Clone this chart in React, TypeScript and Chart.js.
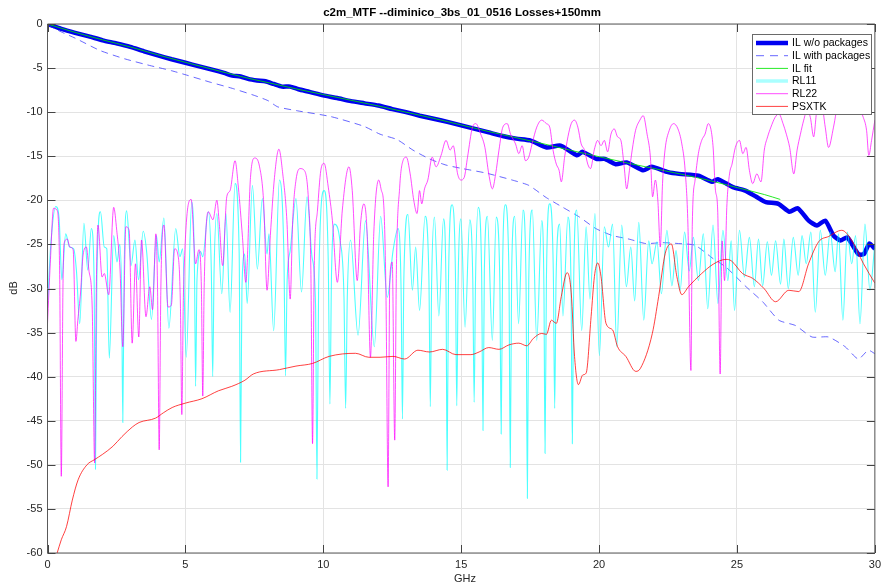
import React, { useEffect, useRef } from 'react';
import { Chart, registerables } from 'chart.js';
Chart.register(...registerables);

type P = [number, number];

const chartTitle = 'c2m_MTF --diminico_3bs_01_0516 Losses+150mm';
const xLabel = 'GHz';
const yLabel = 'dB';
const legendLabels = ['IL w/o packages', 'IL with packages', 'IL fit', 'RL11', 'RL22', 'PSXTK'];
const xTicks = [0, 5, 10, 15, 20, 25, 30];
const yTicks = [0, -5, -10, -15, -20, -25, -30, -35, -40, -45, -50, -55, -60];

const ilNoPkg: P[] = [[0,0],[0.5,-0.55],[1,-1.0],[1.5,-1.4],[2,-1.85],[2.5,-2.2],[3,-2.6],[3.5,-3.1],[4,-3.55],[4.5,-4.0],[5,-4.4],[5.5,-4.8],[6,-5.2],[6.4,-5.55],[6.7,-5.85],[7.0,-5.95],[7.3,-6.25],[7.6,-6.4],[7.9,-6.5],[8.2,-6.8],[8.5,-7.1],[8.8,-7.1],[9.1,-7.4],[9.5,-7.7],[10,-8.1],[10.5,-8.4],[11,-8.75],[11.5,-9.0],[12,-9.25],[12.5,-9.65],[13,-10.0],[13.5,-10.4],[14,-10.75],[14.5,-11.1],[15,-11.5],[15.5,-11.9],[16,-12.3],[16.5,-12.7],[17,-13.0],[17.5,-13.2],[18.1,-14.0],[18.6,-13.8],[19.2,-14.9],[19.4,-14.5],[19.9,-15.3],[20.2,-15.3],[20.6,-15.9],[21.0,-15.7],[21.6,-16.6],[21.9,-16.2],[22.5,-16.8],[22.9,-17.0],[23.6,-17.2],[24.1,-17.9],[24.3,-17.6],[24.85,-18.5],[25.3,-18.9],[25.7,-19.6],[26.05,-20.2],[26.5,-20.4],[26.9,-21.3],[27.2,-20.9],[27.6,-22.3],[27.9,-22.85],[28.2,-22.3],[28.5,-24.0],[28.75,-24.55],[29.0,-24.2],[29.4,-26.1],[29.6,-26.1],[29.8,-24.9],[30,-25.5]];

const ilPkg: P[] = [[0,-0.1],[0.5,-0.9],[1,-1.6],[1.9,-3.0],[2.8,-3.95],[3.7,-4.7],[4.5,-5.3],[5.05,-5.8],[5.9,-6.6],[6.7,-7.3],[7.5,-8.1],[8.0,-8.7],[8.35,-9.4],[9.07,-9.85],[10.27,-10.5],[11.47,-11.6],[12.06,-12.5],[12.67,-13.1],[13.25,-14.3],[13.85,-15.3],[14.45,-16.0],[15.05,-16.4],[15.89,-16.9],[16.85,-17.7],[17.45,-18.3],[18.09,-19.7],[18.69,-20.8],[19.29,-21.9],[19.88,-23.2],[20.49,-24.0],[21.09,-24.4],[21.69,-24.9],[22.28,-24.8],[22.88,-24.9],[23.48,-25.1],[24.13,-26.6],[24.61,-27.6],[25.33,-29.8],[25.93,-31.5],[26.52,-33.6],[27.12,-34.2],[27.72,-35.5],[28.32,-35.5],[28.92,-36.6],[29.4,-38.0],[29.76,-37.0],[30,-37.4]];

const ilFit: P[] = [[0,0],[1,-0.95],[2,-1.8],[3,-2.6],[4,-3.5],[5,-4.35],[6,-5.15],[7,-5.95],[8,-6.65],[9,-7.35],[10,-8.0],[11,-8.65],[12,-9.3],[13,-10.0],[14,-10.7],[15,-11.45],[16,-12.2],[17,-12.9],[18,-13.6],[19,-14.35],[20,-15.05],[21,-15.75],[22,-16.4],[23,-17.05],[24,-17.75],[25,-18.55],[26,-19.35],[26.57,-19.9]];

const rl11: P[] = [[0,-32],[0.12,-25],[0.3,-20.7],[0.42,-22],[0.52,-29],[0.66,-23.8],[0.8,-25.3],[0.95,-25.5],[1.05,-28],[1.17,-34],[1.32,-22.6],[1.46,-27.9],[1.59,-23.2],[1.69,-29],[1.74,-50.5],[1.79,-29],[1.92,-21.3],[2.06,-25.3],[2.15,-25.5],[2.24,-37.9],[2.4,-24],[2.52,-27],[2.62,-25],[2.69,-31],[2.73,-45.2],[2.78,-28],[2.87,-21.2],[3.03,-27.4],[3.17,-24.5],[3.3,-29],[3.47,-23.5],[3.6,-26],[3.77,-33.5],[3.95,-24],[4.05,-27],[4.22,-22],[4.4,-34.5],[4.65,-23.2],[4.8,-26.4],[4.9,-25.5],[5.03,-37.8],[5.23,-20.2],[5.33,-28],[5.37,-41.1],[5.42,-29],[5.55,-25.8],[5.63,-26.4],[5.83,-21.3],[5.94,-28],[5.99,-40],[6.04,-28],[6.14,-21.5],[6.32,-30.6],[6.47,-21.5],[6.62,-32.7],[6.8,-18.1],[6.95,-26],[7.0,-49.7],[7.05,-30],[7.15,-26.1],[7.24,-31.7],[7.43,-18.3],[7.61,-27.8],[7.79,-19.8],[7.96,-26.1],[8.03,-23.8],[8.2,-34.8],[8.41,-17.7],[8.57,-26],[8.63,-39.9],[8.69,-29],[8.8,-25.7],[9.01,-19.8],[9.21,-30.4],[9.41,-19.6],[9.59,-26.4],[9.72,-32],[9.77,-51.6],[9.83,-30],[10.03,-18.9],[10.18,-27],[10.24,-43.1],[10.3,-28],[10.41,-22.7],[10.6,-24.5],[10.75,-31],[10.81,-43.6],[10.87,-31],[10.99,-24.5],[11.26,-35.3],[11.53,-22.3],[11.85,-36.6],[12.08,-21.8],[12.32,-31.0],[12.53,-25.7],[12.71,-23.2],[12.82,-30],[12.87,-44.8],[12.92,-29],[13.07,-21.6],[13.23,-30.2],[13.35,-25.3],[13.49,-32.5],[13.69,-21.8],[13.83,-29],[13.88,-43.4],[13.93,-29],[14.03,-21.9],[14.19,-33.1],[14.36,-22.1],[14.45,-30],[14.49,-50.6],[14.54,-29],[14.67,-20.5],[14.79,-28],[14.84,-43.3],[14.89,-29],[14.99,-22.1],[15.14,-34.4],[15.31,-22.2],[15.42,-29],[15.47,-42.9],[15.52,-29],[15.62,-20.8],[15.74,-28],[15.79,-46.1],[15.84,-28],[15.95,-21.8],[16.13,-35.9],[16.27,-21.9],[16.4,-29],[16.45,-46.5],[16.5,-28],[16.6,-20.5],[16.73,-28],[16.78,-50.3],[16.83,-28],[16.94,-21.8],[17.08,-34.0],[17.24,-21.1],[17.35,-29],[17.4,-53.8],[17.45,-29],[17.58,-21.1],[17.74,-35.9],[17.92,-22.3],[18.0,-30],[18.04,-48.7],[18.09,-29],[18.21,-20.4],[18.34,-28],[18.39,-43.6],[18.44,-29],[18.57,-22.7],[18.69,-33.1],[18.87,-21.9],[18.98,-29],[19.03,-47.6],[19.08,-29],[19.19,-21.1],[19.37,-34.8],[19.53,-23.0],[19.67,-31.2],[19.85,-21.5],[20.01,-37.6],[20.19,-23.0],[20.34,-25.3],[20.49,-22.7],[20.64,-36.6],[20.82,-22.8],[20.99,-29.8],[21.15,-25.3],[21.29,-31.4],[21.44,-22.5],[21.62,-33.6],[21.8,-24.6],[21.92,-27.2],[22.1,-24.7],[22.26,-30.6],[22.46,-23.4],[22.64,-29.7],[22.79,-25.7],[22.94,-30.2],[23.1,-23.6],[23.27,-28.0],[23.42,-24.2],[23.6,-29.1],[23.78,-23.8],[23.94,-32.3],[24.13,-22.8],[24.31,-31.7],[24.49,-23.4],[24.67,-29.1],[24.79,-24.6],[24.91,-32.5],[25.09,-23.4],[25.27,-28.7],[25.45,-24.2],[25.63,-29.8],[25.78,-24.4],[25.93,-29.7],[26.1,-24.7],[26.25,-28.5],[26.4,-24.6],[26.58,-29.5],[26.7,-24.4],[26.86,-30.0],[27.04,-24.2],[27.22,-28.5],[27.36,-24.0],[27.51,-27.2],[27.68,-23.6],[27.84,-32.7],[28.02,-23.4],[28.2,-28.5],[28.38,-23.6],[28.56,-28.1],[28.68,-23.8],[28.84,-33.6],[29.0,-23.6],[29.16,-27.2],[29.3,-24.0],[29.46,-34.0],[29.64,-22.7],[29.82,-30.2],[30,-24.9]];

const rl22: P[] = [[0,-34],[0.1,-27.2],[0.22,-20.9],[0.34,-21.1],[0.44,-28],[0.5,-51.3],[0.56,-30],[0.6,-24.9],[0.72,-24.4],[0.81,-25.3],[0.93,-25.6],[1.03,-36.0],[1.1,-33.6],[1.2,-30.4],[1.29,-26.2],[1.41,-25.3],[1.5,-27.9],[1.62,-32.1],[1.71,-49.8],[1.77,-30],[1.83,-22.8],[1.98,-28.7],[2.06,-28.3],[2.22,-30.7],[2.4,-20.8],[2.51,-23.4],[2.63,-27.9],[2.73,-36.6],[2.84,-23.0],[2.96,-23.4],[3.07,-36.2],[3.19,-27.2],[3.31,-35.5],[3.41,-24.5],[3.57,-33.2],[3.71,-29.8],[3.81,-32.4],[3.93,-23.8],[3.99,-30],[4.05,-48.3],[4.11,-30],[4.22,-22.8],[4.37,-32.1],[4.49,-31.9],[4.61,-25.5],[4.73,-26.2],[4.82,-32],[4.87,-44.3],[4.93,-30.5],[5.21,-19.9],[5.37,-27.2],[5.49,-25.6],[5.58,-30],[5.63,-42.2],[5.68,-30],[5.83,-21.3],[6.0,-22.2],[6.14,-20.0],[6.23,-22.7],[6.35,-27.4],[6.5,-19.6],[6.62,-18.9],[6.8,-15.5],[6.92,-18.5],[7.07,-24.2],[7.19,-29.3],[7.36,-17.4],[7.51,-15.2],[7.69,-16.2],[7.84,-20.4],[7.96,-30.2],[8.08,-24.0],[8.23,-17.4],[8.39,-14.2],[8.53,-17.0],[8.68,-22.3],[8.8,-31.2],[8.89,-22.3],[9.01,-17.7],[9.16,-16.4],[9.31,-16.6],[9.47,-20.4],[9.55,-28],[9.61,-47.6],[9.67,-28],[9.79,-21.1],[9.91,-16.6],[10.03,-15.8],[10.18,-18.5],[10.33,-22.3],[10.51,-29.3],[10.69,-21.1],[10.93,-16.2],[11.05,-18.9],[11.23,-29.1],[11.35,-22.7],[11.47,-20.4],[11.59,-23.8],[11.71,-37.8],[11.83,-23.8],[12.01,-17.7],[12.1,-18.8],[12.2,-21],[12.27,-30.2],[12.35,-52.5],[12.41,-29.1],[12.5,-27.0],[12.59,-47.2],[12.65,-28],[12.77,-18.5],[12.89,-15.5],[13.01,-15.1],[13.15,-17.0],[13.28,-20.0],[13.4,-21.5],[13.49,-18.9],[13.57,-20.4],[13.67,-18.7],[13.79,-17.7],[13.95,-15.1],[14.09,-16.2],[14.27,-14.9],[14.45,-13.2],[14.6,-14.3],[14.71,-13.8],[14.87,-17.0],[14.99,-17.7],[15.11,-17.4],[15.23,-15.1],[15.41,-11.7],[15.53,-11.3],[15.71,-12.5],[15.86,-14.0],[16.0,-17.0],[16.13,-18.7],[16.25,-17.0],[16.37,-14.3],[16.51,-11.7],[16.67,-11.3],[16.79,-12.5],[16.97,-13.6],[17.09,-14.7],[17.21,-13.8],[17.33,-15.5],[17.45,-15.1],[17.57,-13.6],[17.74,-11.7],[17.92,-10.9],[18.09,-11.3],[18.21,-11.7],[18.33,-14.3],[18.45,-15.9],[18.55,-16.6],[18.63,-17.9],[18.75,-15.1],[18.87,-12.8],[18.99,-11.3],[19.11,-10.9],[19.23,-11.7],[19.35,-13.6],[19.47,-14.3],[19.59,-15.9],[19.69,-16.4],[19.83,-14.2],[19.95,-13.2],[20.07,-13.8],[20.19,-13.2],[20.31,-14.5],[20.43,-12.5],[20.55,-11.9],[20.67,-12.8],[20.79,-13.2],[20.91,-16.2],[21.0,-18.7],[21.1,-16.6],[21.2,-14.3],[21.32,-12.1],[21.48,-10.9],[21.6,-10.4],[21.74,-12.5],[21.86,-15.1],[21.94,-19.6],[22.04,-17.7],[22.13,-20.0],[22.22,-25.3],[22.3,-18.1],[22.39,-14.3],[22.54,-12.1],[22.7,-11.3],[22.86,-11.9],[23.0,-13.6],[23.12,-16.6],[23.22,-22.7],[23.33,-39.3],[23.38,-22.7],[23.48,-17.7],[23.6,-14.7],[23.72,-13.2],[23.84,-12.5],[23.96,-11.3],[24.13,-13.8],[24.22,-18.9],[24.3,-21.1],[24.39,-39.7],[24.46,-24.6],[24.55,-29.1],[24.63,-20.8],[24.73,-17.0],[24.82,-15.9],[24.94,-14.0],[25.09,-13.2],[25.21,-14.7],[25.33,-14.0],[25.45,-16.6],[25.57,-18.1],[25.72,-17.0],[25.87,-17.9],[25.99,-14.3],[26.11,-12.8],[26.23,-11.7],[26.38,-10.6],[26.52,-10.2],[26.67,-11.3],[26.79,-12.5],[26.91,-14.0],[27.06,-17.0],[27.18,-14.3],[27.3,-12.5],[27.42,-10.9],[27.54,-9.8],[27.66,-10.6],[27.78,-12.8],[27.9,-9.8],[28.08,-9.4],[28.2,-11.7],[28.32,-14.0],[28.5,-11.7],[28.68,-8.7],[28.92,-7.9],[29.28,-8.7],[29.58,-10.6],[29.7,-12.1],[29.78,-14.9],[29.88,-13.2],[30,-10.9]];

const psxtk: P[] = [[0.35,-60],[0.5,-58.5],[0.69,-57.0],[0.9,-54.0],[1.11,-51.7],[1.43,-50.0],[1.71,-49.4],[2.0,-48.8],[2.37,-47.9],[2.7,-46.8],[3.08,-45.7],[3.32,-45.2],[3.92,-44.7],[4.2,-44.1],[4.52,-43.5],[5.0,-43.0],[5.6,-42.5],[6.2,-41.6],[6.68,-41.1],[7.16,-40.4],[7.46,-39.7],[8.41,-39.2],[9.01,-38.8],[9.61,-38.5],[10.21,-37.7],[11.17,-37.35],[11.65,-37.8],[12.06,-37.8],[12.53,-37.7],[12.95,-38.0],[13.43,-37.0],[13.85,-37.2],[14.33,-36.9],[14.81,-37.5],[15.35,-37.5],[15.65,-37.2],[16.0,-36.7],[16.37,-36.9],[16.73,-36.4],[17.09,-36.2],[17.38,-36.5],[17.62,-35.65],[17.92,-35.1],[18.09,-35.2],[18.27,-33.6],[18.45,-33.95],[18.63,-30.9],[18.84,-28.2],[18.99,-30.5],[19.11,-37.7],[19.25,-40.9],[19.41,-39.8],[19.53,-39.6],[19.71,-33.2],[19.83,-28.65],[19.95,-27.1],[20.07,-28.65],[20.25,-33.95],[20.49,-34.7],[20.67,-36.6],[20.97,-37.7],[21.33,-39.4],[21.5,-39.05],[21.93,-35.1],[22.16,-30.9],[22.4,-26.0],[22.62,-24.95],[22.82,-28.65],[23.0,-30.7],[23.24,-29.8],[23.72,-28.3],[24.16,-27.2],[24.6,-26.7],[24.79,-26.85],[25.2,-28.3],[25.57,-28.85],[25.98,-30.0],[26.4,-31.5],[26.88,-30.2],[27.24,-30.35],[27.6,-27.15],[27.96,-24.7],[28.32,-24.1],[28.8,-23.4],[29.15,-24.5],[29.58,-27.15],[30,-29.4]];

const FONT = '"Liberation Sans", Arial, Helvetica, sans-serif';
const toPts = (a: P[]) => a.map(([x, y]) => ({ x, y }));

export default function App() {
  const ref = useRef<HTMLCanvasElement>(null);
  useEffect(() => {
    if (!ref.current) return;
    const styles = [
      { color: '#0000f0', width: 4.5, dash: [] as number[] },
      { color: 'rgba(40,40,255,0.7)', width: 1, dash: [7, 5] },
      { color: 'rgba(0,230,0,0.85)', width: 1, dash: [] },
      { color: 'rgba(0,255,255,0.7)', width: 1.1, dash: [] },
      { color: 'rgba(255,0,255,0.7)', width: 1, dash: [] },
      { color: 'rgba(255,0,0,0.75)', width: 1, dash: [] },
    ];
    const series = [ilNoPkg, ilPkg, ilFit, rl11, rl22, psxtk];
    const smooth = [false, false, true, true, true, true];
    const datasets = series.map((s, i) => ({
      label: legendLabels[i],
      data: toPts(s),
      borderColor: styles[i].color,
      borderWidth: styles[i].width,
      borderDash: styles[i].dash,
      pointRadius: 0,
      fill: false,
      cubicInterpolationMode: smooth[i] ? ('monotone' as const) : ('default' as const),
      tension: smooth[i] ? 0.4 : 0.2,
      order: 6 - i,
    }));

    const deco = {
      id: 'deco',
      beforeDraw(chart: any) {
        const c = chart.ctx;
        c.save();
        c.fillStyle = '#ffffff';
        c.fillRect(0, 0, chart.width, chart.height);
        c.restore();
      },
      afterDatasetsDraw(chart: any) {
        const c = chart.ctx;
        const a = chart.chartArea;
        const xs = chart.scales.x, ys = chart.scales.y;
        c.save();
        c.strokeStyle = '#5a5a5a';
        c.lineWidth = 1;
        c.setLineDash([]);
        c.beginPath();
        c.rect(a.left, a.top, a.right - a.left, a.bottom - a.top);
        c.stroke();
        c.strokeStyle = '#444444';
        c.beginPath();
        const tl = 8;
        xTicks.forEach(v => {
          const px = Math.round(xs.getPixelForValue(v)) + 0.5;
          c.moveTo(px, a.bottom); c.lineTo(px, a.bottom - tl);
          c.moveTo(px, a.top); c.lineTo(px, a.top + tl);
        });
        yTicks.forEach(v => {
          const py = Math.round(ys.getPixelForValue(v)) + 0.5;
          c.moveTo(a.left, py); c.lineTo(a.left + tl, py);
          c.moveTo(a.right, py); c.lineTo(a.right - tl, py);
        });
        c.stroke();

        // legend
        const lx = 752.5, ly = 34.5, lw = 119, lh = 80;
        c.fillStyle = '#ffffff';
        c.fillRect(lx, ly, lw, lh);
        c.strokeStyle = '#6a6a6a';
        c.lineWidth = 1;
        c.strokeRect(lx, ly, lw, lh);
        const rows = [43, 55.7, 68.4, 81, 93.7, 106.4];
        const sampleStyles = [
          { color: '#0000f0', width: 4.5, dash: [] as number[] },
          { color: 'rgba(40,40,255,0.7)', width: 1, dash: [8, 6] },
          { color: 'rgba(0,230,0,0.85)', width: 1, dash: [] },
          { color: '#aaffff', width: 3.5, dash: [] },
          { color: 'rgba(255,0,255,0.7)', width: 1, dash: [] },
          { color: 'rgba(255,0,0,0.75)', width: 1, dash: [] },
        ];
        c.font = `10.5px ${FONT}`;
        c.textBaseline = 'middle';
        c.textAlign = 'left';
        legendLabels.forEach((lab, i) => {
          const s = sampleStyles[i];
          const y = rows[i];
          c.strokeStyle = s.color;
          c.lineWidth = s.width;
          c.setLineDash(s.dash);
          c.beginPath();
          c.moveTo(756, y); c.lineTo(788, y);
          c.stroke();
          c.setLineDash([]);
          c.fillStyle = '#000000';
          c.fillText(lab, 792, y + 0.5);
        });
        c.restore();
      },
      afterDraw(chart: any) {
        const c = chart.ctx;
        c.save();
        c.fillStyle = '#000000';
        c.textAlign = 'center';
        c.textBaseline = 'middle';
        c.font = `bold 11.5px ${FONT}`;
        c.fillText(chartTitle, 462, 13);
        c.fillStyle = '#262626';
        c.font = `11px ${FONT}`;
        c.fillText(xLabel, 465, 579);
        c.translate(14, 288);
        c.rotate(-Math.PI / 2);
        c.fillText(yLabel, 0, 0);
        c.restore();
      },
    };

    const chart = new Chart(ref.current, {
      type: 'line',
      data: { datasets: datasets as any },
      options: {
        animation: false,
        responsive: false,
        maintainAspectRatio: false,
        parsing: false as any,
        normalized: true,
        layout: { padding: { top: 24, right: 3.5, left: 0, bottom: 0 } },
        plugins: {
          legend: { display: false },
          title: { display: false },
          tooltip: { enabled: false },
        },
        scales: {
          x: {
            type: 'linear',
            min: 0,
            max: 30,
            afterFit(s: any) { s.height = 34; },
            afterBuildTicks(s: any) { s.ticks = xTicks.map(v => ({ value: v })); },
            ticks: { padding: 5, color: '#262626', font: { family: FONT, size: 11 }, maxRotation: 0, autoSkip: false },
            grid: { color: '#e3e3e3', drawTicks: false, lineWidth: 1 },
            border: { display: false },
          },
          y: {
            type: 'linear',
            min: -60,
            max: 0,
            afterFit(s: any) { s.width = 47.5; },
            afterBuildTicks(s: any) { s.ticks = yTicks.slice().reverse().map(v => ({ value: v })); },
            ticks: { padding: 5, color: '#262626', font: { family: FONT, size: 11 }, autoSkip: false },
            grid: { color: '#e3e3e3', drawTicks: false, lineWidth: 1 },
            border: { display: false },
          },
        },
      },
      plugins: [deco],
    });
    return () => chart.destroy();
  }, []);
  return (
    <div style={{ position: 'fixed', left: 0, top: 0, width: 886, height: 587, background: '#fff' }}>
      <canvas ref={ref} width={886} height={587} style={{ display: 'block' }} />
    </div>
  );
}
